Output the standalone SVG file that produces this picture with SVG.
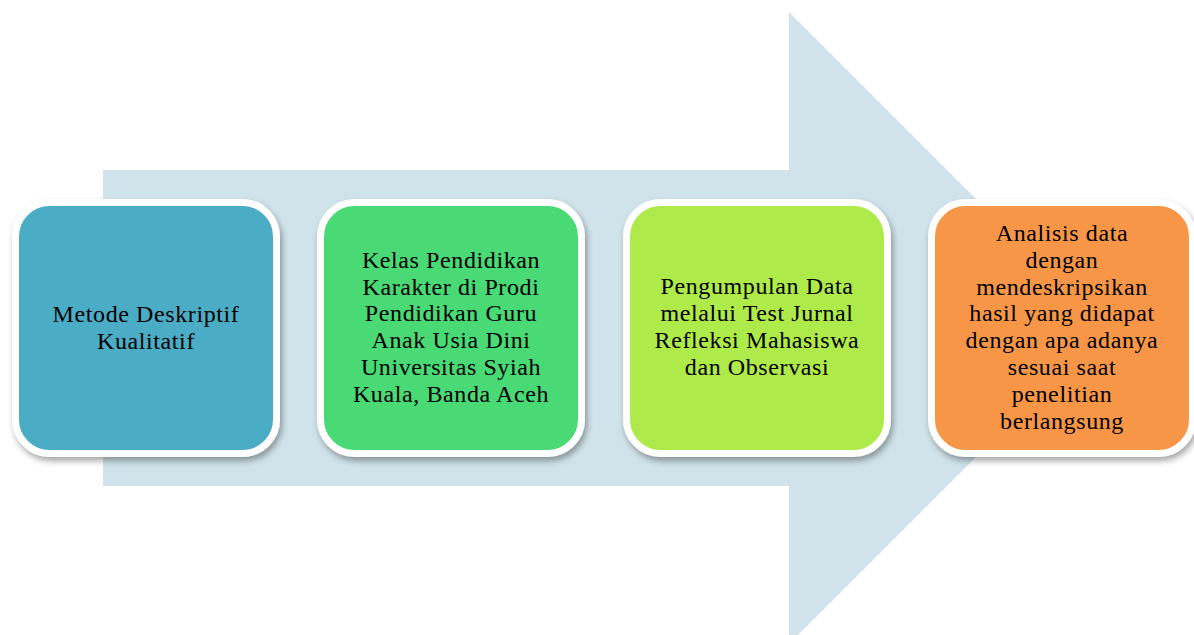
<svg xmlns="http://www.w3.org/2000/svg" width="1194" height="635" viewBox="0 0 1194 635">
<defs>
<filter id="sh" x="-10%" y="-10%" width="125%" height="125%">
<feDropShadow dx="2" dy="4" stdDeviation="3" flood-color="#000" flood-opacity="0.35"/>
</filter>
<style>
.box{stroke:#fff;stroke-width:7;filter:url(#sh)}
.t{font-family:"Liberation Serif","DejaVu Serif",serif;font-size:24px;letter-spacing:0.6px;fill:#000;text-anchor:middle}
</style>
</defs>
<rect width="1194" height="635" fill="#fff"/>
<g id="connectors">
<path d="M103,170 L789,170 L789,12 L1105,328 L789,644 L789,486 L103,486 Z" fill="#d0e3ea"/>
</g>
<g id="n1">
<rect class="box" x="15.5" y="202.5" width="261" height="251" rx="34" fill="#4bacc6"/>
<text class="t" x="146" y="322">Metode Deskriptif</text>
<text class="t" x="146" y="349">Kualitatif</text>
</g>
<g id="n2">
<rect class="box" x="320.5" y="202.5" width="261" height="251" rx="34" fill="#4ad974"/>
<text class="t" x="451" y="268">Kelas Pendidikan</text>
<text class="t" x="451" y="294.7">Karakter di Prodi</text>
<text class="t" x="451" y="321.4">Pendidikan Guru</text>
<text class="t" x="451" y="348.1">Anak Usia Dini</text>
<text class="t" x="451" y="374.8">Universitas Syiah</text>
<text class="t" x="451" y="401.5">Kuala, Banda Aceh</text>
</g>
<g id="n3">
<rect class="box" x="626.5" y="202.5" width="261" height="251" rx="34" fill="#aeea48"/>
<text class="t" x="757" y="294">Pengumpulan Data</text>
<text class="t" x="757" y="321">melalui Test Jurnal</text>
<text class="t" x="757" y="348">Refleksi Mahasiswa</text>
<text class="t" x="757" y="375">dan Observasi</text>
</g>
<g id="n4">
<rect class="box" x="931.5" y="202.5" width="261" height="251" rx="34" fill="#f79646"/>
<text class="t" x="1062" y="241">Analisis data</text>
<text class="t" x="1062" y="267.8">dengan</text>
<text class="t" x="1062" y="294.6">mendeskripsikan</text>
<text class="t" x="1062" y="321.4">hasil yang didapat</text>
<text class="t" x="1062" y="348.2">dengan apa adanya</text>
<text class="t" x="1062" y="375">sesuai saat</text>
<text class="t" x="1062" y="401.8">penelitian</text>
<text class="t" x="1062" y="428.6">berlangsung</text>
</g>
</svg>
